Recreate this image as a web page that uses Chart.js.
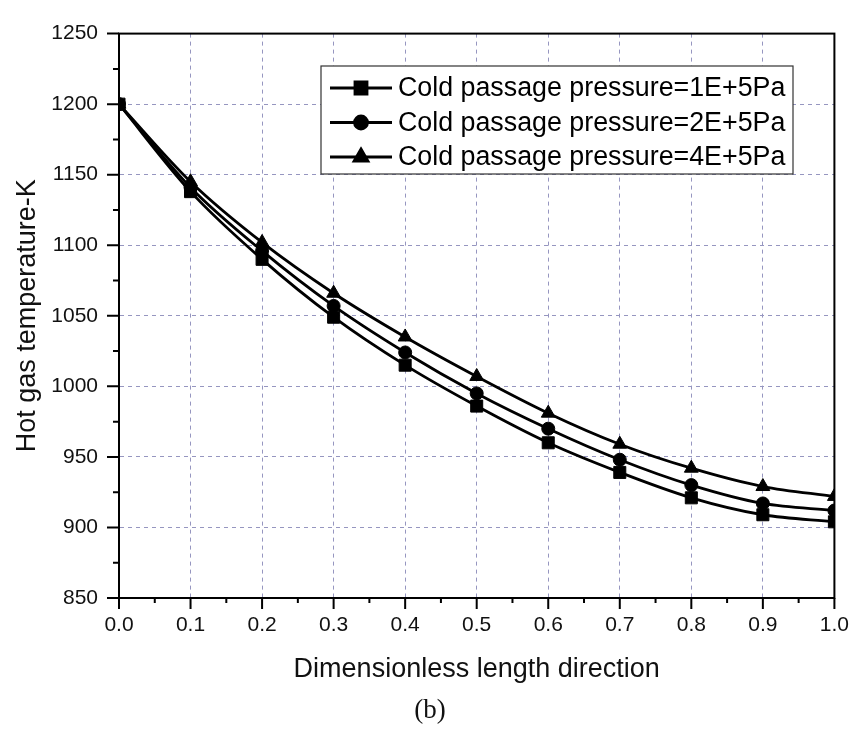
<!DOCTYPE html>
<html>
<head>
<meta charset="utf-8">
<script src="https://cdn.jsdelivr.net/npm/chart.js@4/dist/chart.umd.min.js"></script>
<style>
  html, body { margin: 0; padding: 0; background: #fff; }
  #wrap { position: relative; width: 864px; height: 733px; }
  #caption { position: absolute; left: 0; width: 864px; top: 694px; text-align: center;
             font-family: "Liberation Serif", "DejaVu Serif", serif; font-size: 27px; color: #111; padding-right: 4px; box-sizing: border-box; }
</style>
</head>
<body>
<div id="wrap">
  <canvas id="c" width="864" height="733"></canvas>
  <div id="caption">(b)</div>
</div>
<script>
// data
const xPos = [0.0, 0.1, 0.2, 0.3, 0.4, 0.5, 0.6, 0.7, 0.8, 0.9, 1.0];
const temp1E5 = [1200, 1138, 1090, 1049, 1015, 986, 960, 939, 921, 909, 904];
const temp2E5 = [1200, 1141, 1096, 1057, 1024, 995, 970, 948, 930, 917, 912];
const temp4E5 = [1200, 1145, 1102, 1066, 1035, 1007, 981, 959, 942, 929, 922];
const seriesNames = ['Cold passage pressure=1E+5Pa', 'Cold passage pressure=2E+5Pa', 'Cold passage pressure=4E+5Pa'];
const markers = ['rect', 'circle', 'triangle'];
const markerSize = [8.5, 6.5, 8];

const gridColor = '#9696c0';
const fontSans = '"Liberation Sans", Arial, sans-serif';

function pts(ys) { return xPos.map((x, i) => ({x: x, y: ys[i]})); }

const datasets = [temp1E5, temp2E5, temp4E5].map((ys, i) => ({
  label: seriesNames[i],
  data: pts(ys),
  borderColor: '#000',
  backgroundColor: '#000',
  borderWidth: 2.8,
  pointStyle: markers[i],
  pointRadius: markerSize[i],
  pointBorderWidth: 1,
  tension: 0.4,
  cubicInterpolationMode: 'monotone'
}));

// frame, outward ticks (major + minor) and legend box
const framePlugin = {
  id: 'frame',
  afterDraw(chart) {
    const {ctx, chartArea: a, scales: {x, y}} = chart;
    ctx.save();
    ctx.strokeStyle = '#000';
    ctx.lineWidth = 2;
    ctx.setLineDash([]);
    ctx.strokeRect(a.left, a.top, a.right - a.left, a.bottom - a.top);
    ctx.beginPath();
    for (let k = 0; k <= 20; k++) {
      const px = x.getPixelForValue(k * 0.05);
      ctx.moveTo(px, a.bottom);
      ctx.lineTo(px, a.bottom + (k % 2 === 0 ? 11 : 5));
    }
    for (let k = 0; k <= 16; k++) {
      const py = y.getPixelForValue(850 + k * 25);
      ctx.moveTo(a.left, py);
      ctx.lineTo(a.left - (k % 2 === 0 ? 12 : 6), py);
    }
    ctx.stroke();

    // legend
    const bx = 321, by = 66, bw = 472, bh = 108;
    ctx.fillStyle = '#fff';
    ctx.fillRect(bx, by, bw, bh);
    ctx.lineWidth = 1.2;
    ctx.strokeStyle = '#333';
    ctx.strokeRect(bx, by, bw, bh);
    ctx.font = '26.8px ' + fontSans;
    ctx.textBaseline = 'middle';
    chart.data.datasets.forEach((ds, i) => {
      const ry = by + 22 + i * 34.5;
      ctx.strokeStyle = '#000';
      ctx.lineWidth = 2.8;
      ctx.beginPath();
      ctx.moveTo(bx + 9, ry);
      ctx.lineTo(bx + 71, ry);
      ctx.stroke();
      ctx.fillStyle = '#000';
      Chart.helpers.drawPoint(ctx, {pointStyle: ds.pointStyle, radius: ds.pointRadius, borderWidth: 1}, bx + 40, ry);
      ctx.fillText(ds.label, bx + 77, ry + 1);
    });
    ctx.restore();
  }
};

new Chart(document.getElementById('c'), {
  type: 'line',
  data: { datasets: datasets },
  plugins: [framePlugin],
  options: {
    responsive: false,
    animation: false,
    layout: { padding: { top: 25, right: 21, bottom: 47, left: 0 } },
    plugins: { legend: { display: false }, tooltip: { enabled: false } },
    scales: {
      x: {
        type: 'linear',
        min: 0, max: 1,
        afterFit(s) { s.height = 88; },
        border: { display: true, color: '#000', width: 2, dash: [4, 4] },
        grid: {
          drawTicks: false,
          color: ctx => (ctx.index === 0 || ctx.index === 10) ? 'rgba(0,0,0,0)' : gridColor,
          lineWidth: 1
        },
        ticks: {
          stepSize: 0.1,
          padding: 15,
          color: '#111',
          font: { family: fontSans, size: 21 },
          callback: v => v.toFixed(1),
          maxRotation: 0
        },
        title: {
          display: true,
          text: 'Dimensionless length direction',
          color: '#111',
          font: { family: fontSans, size: 27, lineHeight: 1.2 },
          padding: { top: 0, bottom: 0 }
        }
      },
      y: {
        min: 850, max: 1250,
        afterFit(s) { s.width = 119; },
        border: { display: true, color: '#000', width: 2, dash: [4, 4] },
        grid: {
          drawTicks: false,
          color: ctx => (ctx.index === 0 || ctx.index === 8) ? 'rgba(0,0,0,0)' : gridColor,
          lineWidth: 1
        },
        ticks: {
          stepSize: 50,
          padding: 21,
          color: '#111',
          font: { family: fontSans, size: 21 },
          callback: v => String(v)
        },
        title: {
          display: true,
          text: 'Hot gas temperature-K',
          color: '#111',
          font: { family: fontSans, size: 27, lineHeight: 1.2 },
          padding: { top: 11, bottom: 0 }
        }
      }
    }
  }
});
</script>
</body>
</html>
